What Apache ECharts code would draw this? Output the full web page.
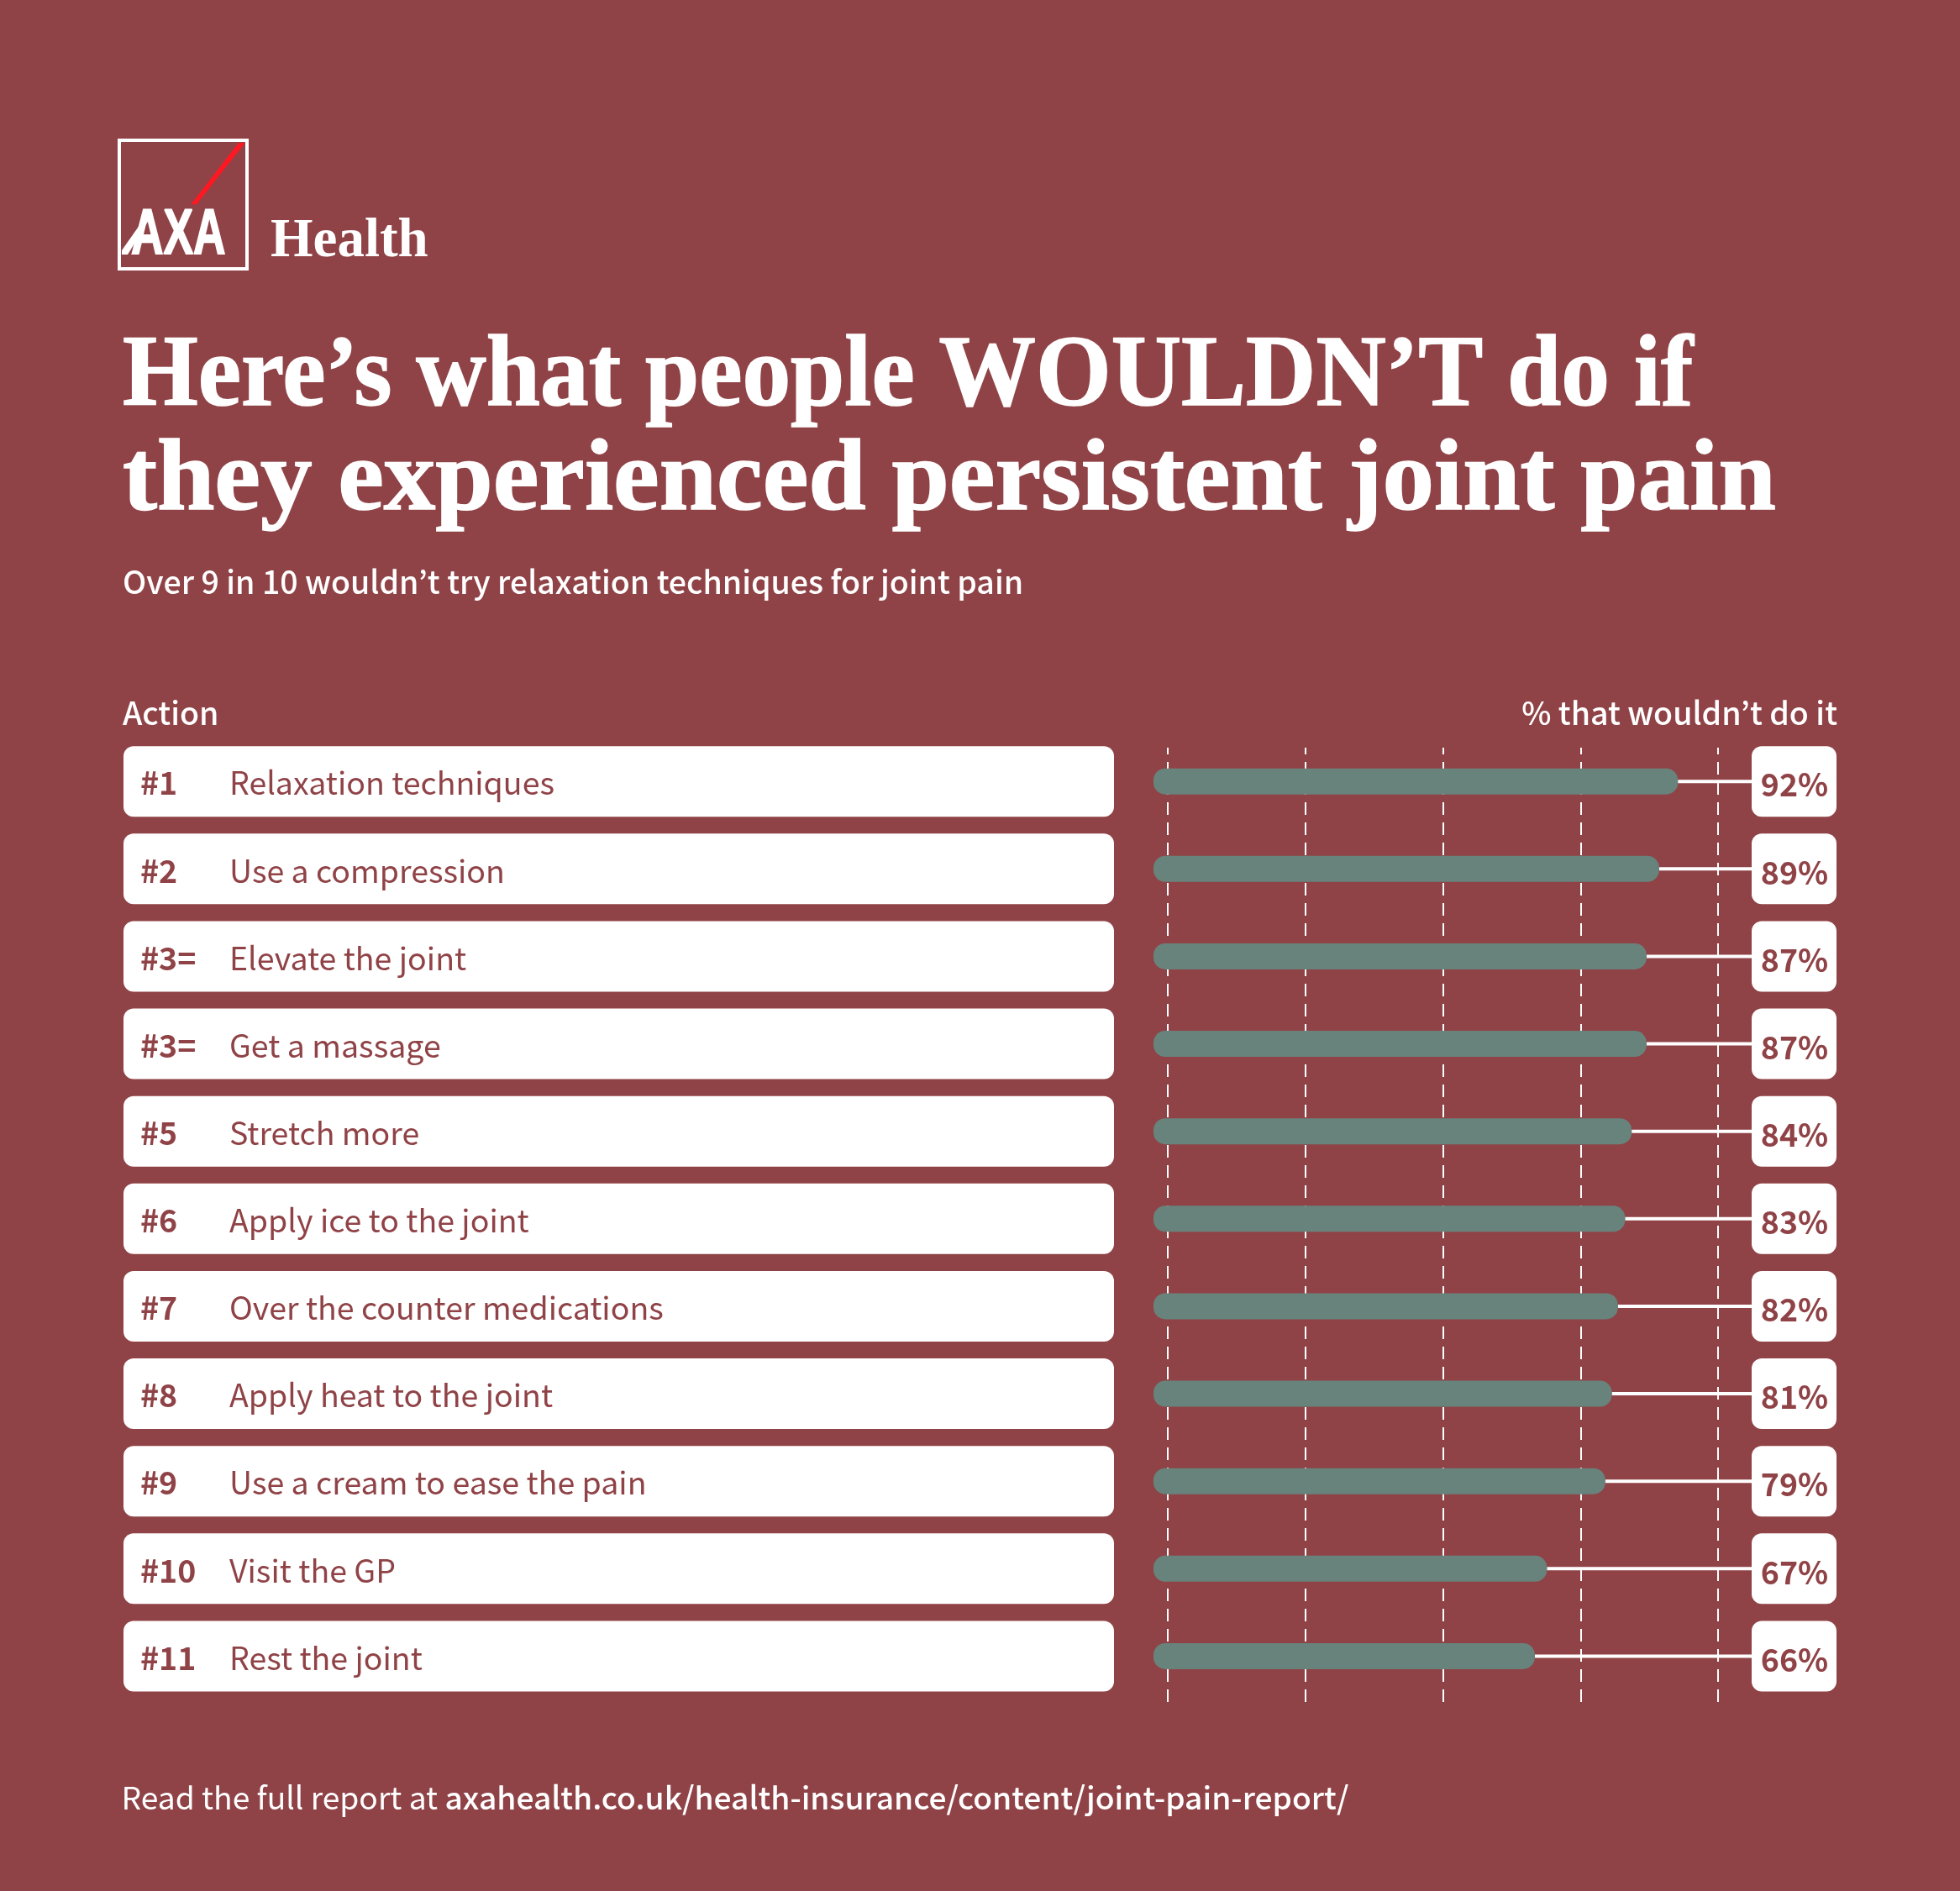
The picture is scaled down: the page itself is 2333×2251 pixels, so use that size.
<!DOCTYPE html>
<html>
<head>
<meta charset="utf-8">
<style>
html, body { margin: 0; padding: 0; background: #904347; }
#main { width: 2333px; height: 2251px; }
</style>
<script src="https://cdn.jsdelivr.net/npm/echarts@6/dist/echarts.min.js"></script>
</head>
<body>
<div id="main"></div>
<script>
var ranks = ['#1', '#2', '#3=', '#3=', '#5', '#6', '#7', '#8', '#9', '#10', '#11'];
var actions = ['Relaxation techniques', 'Use a compression', 'Elevate the joint', 'Get a massage', 'Stretch more', 'Apply ice to the joint', 'Over the counter medications', 'Apply heat to the joint', 'Use a cream to ease the pain', 'Visit the GP', 'Rest the joint'];
var percentLabels = [92, 89, 87, 87, 84, 83, 82, 81, 79, 67, 66];
// bar lengths as drawn in the picture, on the same 0-100 axis
var barValues = [92.7, 89.3, 87.0, 87.0, 84.3, 83.1, 81.8, 80.7, 79.5, 68.9, 66.7];

var bg = '#904347';
var barColor = '#67837c';
var sans = '"Noto Sans CJK KR", "Noto Sans", sans-serif';
var serif = '"Liberation Serif", serif';

var chart = echarts.init(document.getElementById('main'));

var renderRow = function(params, api) {
    var i = api.value(1);
    var y = api.coord([0, i])[1];
    return {
        type: 'group',
        children: [
            { type: 'rect', shape: { x: 147, y: y - 42, width: 1179, height: 84, r: 12 }, style: { fill: '#fff' } },
            { type: 'text', style: { x: 167, y: y + 2, text: ranks[i], fill: bg, font: '700 37.5px ' + sans, textAlign: 'left', verticalAlign: 'middle' } },
            { type: 'text', style: { x: 273, y: y + 2, text: actions[i], fill: bg, font: '400 37.5px ' + sans, textAlign: 'left', verticalAlign: 'middle' } },
            { type: 'rect', shape: { x: 2085, y: y - 42, width: 101, height: 84, r: 12 }, style: { fill: '#fff' } },
            { type: 'text', style: { x: 2136, y: y + 4, text: percentLabels[i] + '%', fill: bg, font: '700 37.5px ' + sans, textAlign: 'center', verticalAlign: 'middle' } }
        ]
    };
};

var renderBar = function(params, api) {
    var end = api.coord([api.value(0), api.value(1)]);
    var start = api.coord([0, api.value(1)]);
    return {
        type: 'group',
        children: [
            { type: 'rect', shape: { x: end[0], y: end[1] - 2, width: 2085 - end[0], height: 4 }, style: { fill: '#fff' } },
            { type: 'rect', shape: { x: start[0] - 17, y: start[1] - 15.5, width: end[0] - start[0] + 17, height: 31, r: 14 }, style: { fill: barColor } }
        ]
    };
};

var barData = [];
for (var i = 0; i < barValues.length; i++) {
    barData.push([barValues[i], i]);
}

var option = {
    backgroundColor: bg,
    animation: false,
    grid: [
        { left: 1390, width: 655, top: 878.1, height: 1145.4 },
        { left: 1390, width: 655, top: 890, height: 1137 }
    ],
    xAxis: [
        { type: 'value', gridIndex: 0, min: 0, max: 100, interval: 25, show: false },
        {
            type: 'value', gridIndex: 1, min: 0, max: 100, interval: 25,
            axisLine: { show: false }, axisTick: { show: false }, axisLabel: { show: false },
            splitLine: { show: true, lineStyle: { color: '#fff', width: 2, type: [15, 9], dashOffset: 7 } }
        }
    ],
    yAxis: [
        { type: 'category', gridIndex: 0, data: actions, inverse: true, show: false },
        { type: 'value', gridIndex: 1, min: 0, max: 1, show: false }
    ],
    series: [
        { type: 'custom', name: 'Rows', xAxisIndex: 0, yAxisIndex: 0, renderItem: renderRow, data: barData, z: 3, silent: true },
        { type: 'custom', name: "% that wouldn't do it", xAxisIndex: 0, yAxisIndex: 0, renderItem: renderBar, data: barData, z: 2, silent: true }
    ],
    graphic: [
        { type: 'rect', shape: { x: 142, y: 167, width: 152, height: 153 }, style: { fill: 'none', stroke: '#fff', lineWidth: 4 } },
        { type: 'polygon', shape: { points: [[284, 170], [291.7, 170], [234, 243.3], [227.3, 243.3]] }, style: { fill: '#ff1721' } },
        { type: 'text', x: 156, y: 243, scaleX: 0.7, style: { x: 0, y: 0, text: 'AXA', fill: '#fff', stroke: '#fff', lineWidth: 2, font: '700 76px "Liberation Sans", sans-serif', verticalAlign: 'top' } },
        { type: 'polygon', shape: { points: [[145, 298], [176, 254], [182, 254], [152, 303], [145, 303]] }, style: { fill: '#fff' } },
        { type: 'text', style: { x: 322, y: 321, text: 'Health', fill: '#fff', font: '700 65px ' + serif, verticalAlign: 'bottom' } },
        { type: 'text', x: 146, y: 511, scaleX: 0.962, style: { x: 0, y: 0, text: 'Here\u2019s what people WOULDN\u2019T do if', fill: '#fff', stroke: '#fff', lineWidth: 1.5, font: '700 120px ' + serif, verticalAlign: 'bottom' } },
        { type: 'text', x: 146, y: 635, scaleX: 1.025, style: { x: 0, y: 0, text: 'they experienced persistent joint pain', fill: '#fff', stroke: '#fff', lineWidth: 1.5, font: '700 120px ' + serif, verticalAlign: 'bottom' } },
        { type: 'text', style: { x: 146, y: 692.5, text: 'Over 9 in 10 wouldn\u2019t try relaxation techniques for joint pain', fill: '#fff', font: '500 37.5px ' + sans, verticalAlign: 'middle' } },
        { type: 'text', style: { x: 146, y: 849, text: 'Action', fill: '#fff', font: '500 37.5px ' + sans, verticalAlign: 'middle' } },
        { type: 'text', style: { x: 2187, y: 849, text: '% that wouldn\u2019t do it', fill: '#fff', font: '500 37.5px ' + sans, textAlign: 'right', verticalAlign: 'middle' } },
        {
            type: 'text',
            style: {
                x: 144.5, y: 2139.5, verticalAlign: 'middle', fill: '#fff', font: '400 37.2px ' + sans,
                text: '{a|Read the full report at }{b|axahealth.co.uk/health-insurance/content/joint-pain-report/}',
                rich: {
                    a: { fill: '#fff', font: '400 37.2px ' + sans },
                    b: { fill: '#fff', font: '500 37.2px ' + sans }
                }
            }
        }
    ]
};
chart.setOption(option);
</script>
</body>
</html>
